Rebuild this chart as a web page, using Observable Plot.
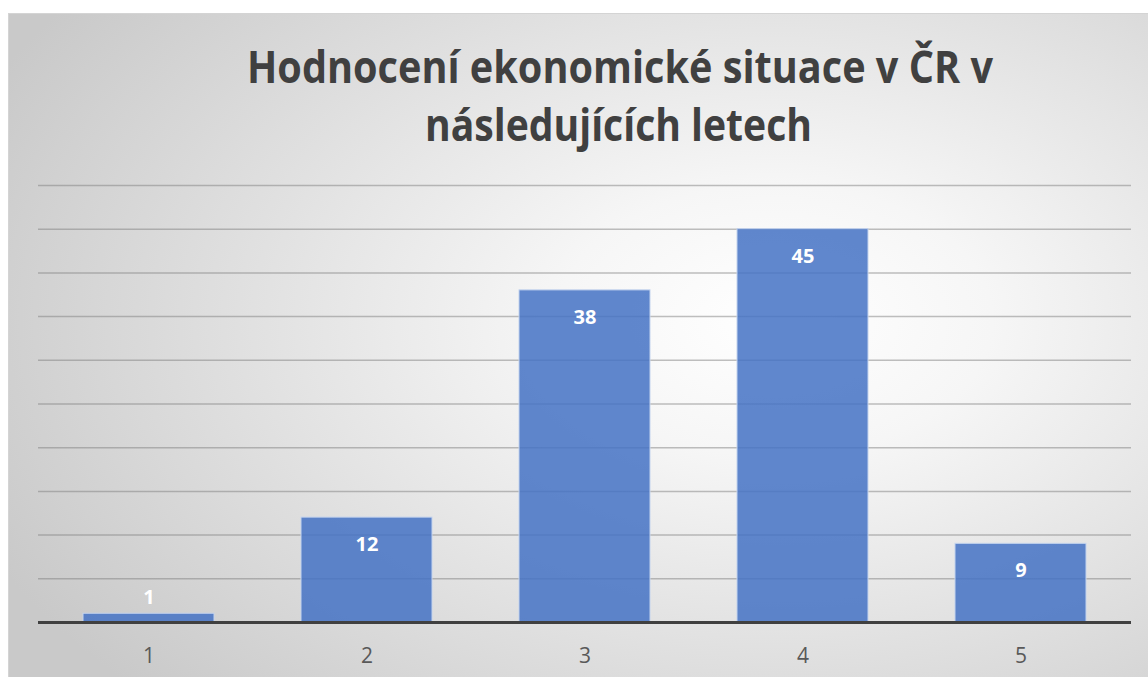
<!DOCTYPE html>
<html>
<head>
<meta charset="utf-8">
<script src="https://cdn.jsdelivr.net/npm/d3@7"></script>
<script src="https://cdn.jsdelivr.net/npm/@observablehq/plot@0.6"></script>
<style>
  html, body { margin: 0; padding: 0; background: #ffffff; }
  #page { position: relative; width: 1148px; height: 677px; overflow: hidden; font-family: "Open Sans", sans-serif; }
  #bg { position: absolute; left: 8px; top: 13px; width: 1160px; height: 680px;
        border-left: 1.5px solid #d4d4d4; border-top: 1.5px solid #d4d4d4;
        background: radial-gradient(ellipse 75% 80% at 66% 45%, #ffffff 0%, #f6f6f6 25%, #dedede 65%, #c9c9c9 100%); }
  #title { position: absolute; left: 0; top: 0; }
  #chart { position: absolute; left: 0; top: 160px; }
</style>
</head>
<body>
<div id="page">
  <div id="bg"></div>
  <svg id="title" width="1148" height="160"></svg>
  <div id="chart"></div>
</div>
<script>
const titleLines = ["Hodnocení ekonomické situace v ČR v", "následujících letech"];
const categories = ["1", "2", "3", "4", "5"];
const values = [1, 12, 38, 45, 9];
const gridValues = [5, 10, 15, 20, 25, 30, 35, 40, 45, 50];

// Title (real SVG text)
const ts = d3.select("#title");
const titleSpecs = [
  {y: 83, x: 620, len: 746},
  {y: 141, x: 618.5, len: 387}
];
titleLines.forEach((t, i) => {
  ts.append("text")
    .attr("x", titleSpecs[i].x).attr("y", titleSpecs[i].y)
    .attr("text-anchor", "middle")
    .attr("font-family", "Open Sans, sans-serif")
    .attr("font-weight", 700)
    .attr("font-size", 45)
    .attr("fill", "#404040")
    .attr("textLength", titleSpecs[i].len)
    .attr("lengthAdjust", "spacingAndGlyphs")
    .text(t);
});

const data = categories.map((c, i) => ({cat: c, value: values[i]}));

const labelStyle = {x: "cat", y: "value", text: d => String(d.value),
  fill: "white", fontWeight: 700, fontSize: 20};

const chart = Plot.plot({
  width: 1148,
  height: 517,
  marginLeft: 38,
  marginRight: 17,
  marginTop: 25,
  marginBottom: 55,
  style: {background: "transparent", fontFamily: "Open Sans, sans-serif", overflow: "visible"},
  x: {domain: categories, paddingInner: 0.4, paddingOuter: 0.2, label: null},
  y: {domain: [0, 50], axis: null},
  marks: [
    Plot.ruleY(gridValues, {stroke: "#7f7f7f", strokeOpacity: 0.5, strokeWidth: 1.5}),
    Plot.barY(data, {x: "cat", y: "value", fill: "#4472C4", fillOpacity: 0.85, stroke: "#c3d3ee", strokeWidth: 1}),
    Plot.ruleY([0], {stroke: "#404040", strokeWidth: 3}),
    // inside end of bar
    Plot.text(data, {...labelStyle, filter: d => d.value >= 3, dy: 27}),
    // above bar when too short
    Plot.text(data, {...labelStyle, filter: d => d.value < 3, dy: -16}),
    Plot.axisX({tickSize: 0, tickPadding: 26, fontSize: 21, color: "#595959", label: null})
  ]
});
document.getElementById("chart").appendChild(chart);
</script>
</body>
</html>
